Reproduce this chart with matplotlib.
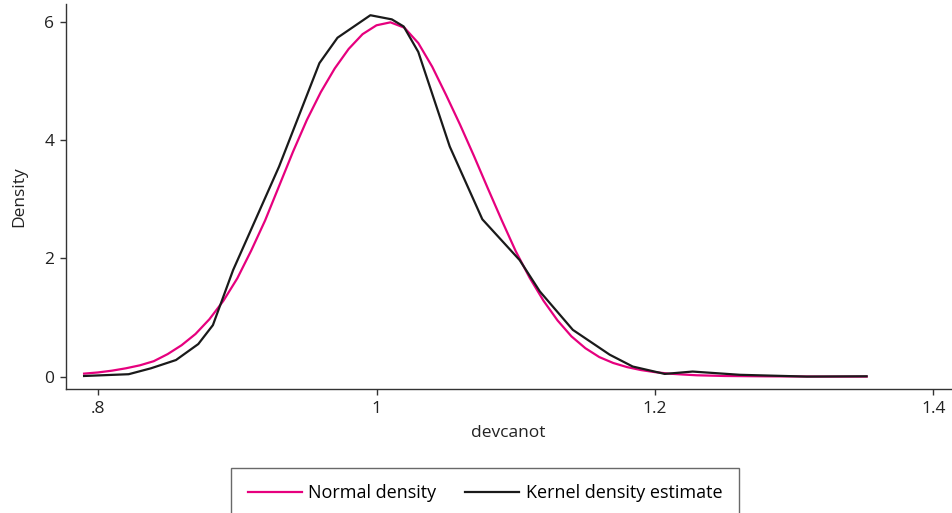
import matplotlib
matplotlib.use("Agg")
import matplotlib.pyplot as plt

# DATA ==================================================================

# normal density (pink)
normal_x = [0.79, 0.80, 0.81, 0.82, 0.83, 0.84, 0.85, 0.86, 0.87, 0.88,
            0.89, 0.90, 0.91, 0.92, 0.93, 0.94, 0.95, 0.96, 0.97, 0.98,
            0.99, 1.00, 1.01, 1.02, 1.03, 1.04, 1.05, 1.06, 1.07, 1.08,
            1.09, 1.10, 1.11, 1.12, 1.13, 1.14, 1.15, 1.16, 1.17, 1.18,
            1.19, 1.20, 1.21, 1.22, 1.23, 1.25, 1.28, 1.32, 1.352]
normal_y = [0.05, 0.07, 0.10, 0.14, 0.19, 0.26, 0.38, 0.53, 0.72, 0.97,
            1.28, 1.66, 2.13, 2.64, 3.22, 3.80, 4.34, 4.81, 5.21, 5.54,
            5.79, 5.94, 5.99, 5.90, 5.64, 5.24, 4.76, 4.26, 3.73, 3.18,
            2.64, 2.12, 1.67, 1.28, 0.95, 0.68, 0.48, 0.33, 0.23, 0.16,
            0.11, 0.075, 0.05, 0.035, 0.022, 0.01, 0.004, 0.0, 0.0]

# kernel density estimate (black)
kde_x = [0.790, 0.822, 0.838, 0.856, 0.872, 0.8825, 0.897, 0.93, 0.959,
         0.972, 0.9956, 1.011, 1.0195, 1.030, 1.0526, 1.076, 1.1028,
         1.1173, 1.141, 1.1675, 1.184, 1.207, 1.227, 1.261, 1.309, 1.352]
kde_y = [0.01, 0.04, 0.14, 0.28, 0.55, 0.87, 1.80, 3.55, 5.30,
         5.73, 6.11, 6.04, 5.92, 5.49, 3.89, 2.66, 1.97,
         1.44, 0.79, 0.37, 0.17, 0.045, 0.085, 0.03, 0.0, 0.005]

x_ticks = [0.8, 1.0, 1.2, 1.4]
x_ticklabels = [".8", "1", "1.2", "1.4"]
y_ticks = [0, 2, 4, 6]

PINK = "#e6007e"
BLACK = "#1a1a1a"
AXC = "#333333"

# PLOT ==================================================================

plt.rcParams["font.family"] = ["Open Sans", "DejaVu Sans"]

W, H = 952, 513
fig = plt.figure(figsize=(W / 100, H / 100), dpi=100)
ax = fig.add_axes([66 / W, 1 - 389 / H, 885 / W, 385 / H])

l1, = ax.plot(normal_x, normal_y, color=PINK, lw=1.6, label="Normal density")
l2, = ax.plot(kde_x, kde_y, color=BLACK, lw=1.6, label="Kernel density estimate")

ax.set_xlim(0.777, 1.4126)
ax.set_ylim(-0.21, 6.30)
ax.set_xticks(x_ticks)
ax.set_xticklabels(x_ticklabels)
ax.set_yticks(y_ticks)

for side in ("top", "right"):
    ax.spines[side].set_visible(False)
for side in ("left", "bottom"):
    ax.spines[side].set_color(AXC)
    ax.spines[side].set_linewidth(1.0)
ax.tick_params(colors=AXC, labelcolor="#222222", length=4.5, width=1.0,
               labelsize=12.5, pad=4)

ax.set_xlabel("devcanot", fontsize=12.5, color="#222222", labelpad=6)
ax.set_ylabel("Density", fontsize=12.5, color="#222222", labelpad=12)

leg = fig.legend(handles=[l1, l2], loc="center",
                 bbox_to_anchor=(485 / W, 1 - 493 / H), ncol=2,
                 frameon=True, fancybox=False, edgecolor="#444444",
                 fontsize=13, handlelength=3.0, handletextpad=0.35,
                 columnspacing=1.6, borderpad=0.9)
leg.get_frame().set_linewidth(1.0)

fig.savefig("out.png", dpi=100)
